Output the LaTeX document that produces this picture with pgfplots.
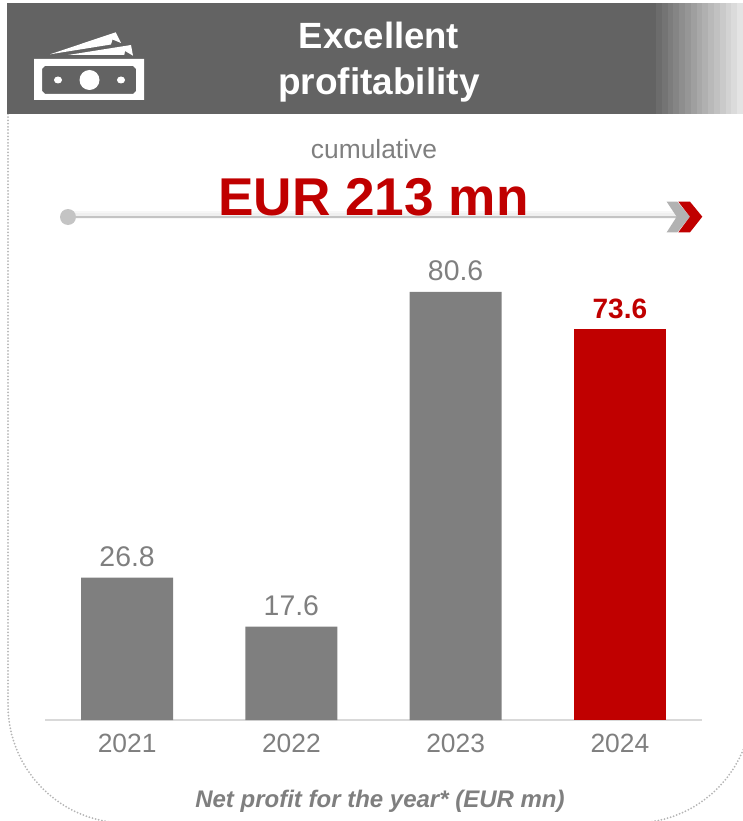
\documentclass[border=0pt]{standalone}
\usepackage{fontspec}
\setmainfont{Liberation Sans}
\usepackage{pgfplots}
\pgfplotsset{compat=1.18}

\definecolor{hdr}{HTML}{636363}
\definecolor{bargray}{HTML}{7F7F7F}
\definecolor{barred}{HTML}{C00000}
\definecolor{framegray}{HTML}{B5B5B5}
\definecolor{axisgray}{HTML}{D9D9D9}
\newcommand{\fs}[1]{\fontsize{#1}{#1}\selectfont}

\begin{document}
\begin{tikzpicture}
\path[use as bounding box] (0,0) rectangle (743pt,-821pt);

% picture units are the reference's pixels, y going down
\begin{scope}[x=1pt,y=-1pt]
% dotted frame, runs off the page on the right and at the bottom
\begin{scope}
\clip (0,0) rectangle (743,821);
\draw[framegray, line width=2pt, line cap=round, dash pattern=on 0pt off 3.2pt]
  (8,114) -- (8,705) arc[start angle=180, end angle=90, x radius=118, y radius=118]
  -- (634,823) arc[start angle=90, end angle=0, x radius=118, y radius=118] -- (752,114);
\end{scope}

% header band
\fill[hdr] (7,3) rectangle (743,114);
\foreach \i in {0,...,14} {
  \pgfmathsetmacro{\p}{5.5*(\i+1)}
  \fill[white!\p!hdr] ({656+5.8*\i},3) rectangle ({656+5.8*(\i+1)},114);
}

% banknote icon
\fill[white, even odd rule] (34,59) rectangle (144,100)
  (45,66) -- (133,66) -- (136,69) -- (136,91) -- (133,94) -- (45,94) -- (42,91) -- (42,69) -- cycle;
\fill[white] (89.5,80) ellipse[x radius=10, y radius=10];
\fill[white] (58,80) ellipse[x radius=4, y radius=3.5];
\fill[white] (121,80) ellipse[x radius=4, y radius=3.5];
\fill[white] (50,54.3) -- (115.7,32.3) -- (121,43) -- (112.5,39.5) -- (111,44.5) -- cycle;
\fill[white] (68,55) -- (131,45) -- (133,55.7) -- (125,51) -- (124.3,55) -- cycle;

\node[white, font=\fs{36.5}\bfseries, anchor=base, inner sep=0] at (379,49) {Excellent};
\node[white, font=\fs{37}\bfseries, anchor=base, inner sep=0] at (379,95) {profitability};

% cumulative arrow
\draw[black!3, line width=8pt] (72,214.5) -- (678,214.5);
\draw[black!6, line width=4pt] (72,215) -- (678,215);
\draw[framegray!80, line width=2pt] (68,216.5) -- (678,216.5);
\fill[framegray!80] (68,217) ellipse[x radius=8, y radius=8];
\fill[black!30] (666.7,201.7) -- (677.3,201.7) -- (690,216.7) -- (677.3,232.3) -- (666.7,232.3) -- (676.7,216.7) -- cycle;
\fill[barred] (678.3,201.7) -- (690,201.7) -- (702.3,216.7) -- (690,232.3) -- (678.3,232.3) -- (690,216.7) -- cycle;

\node[bargray, font=\fs{26.4}, anchor=base, inner sep=0] at (374,159) {cumulative};
\node[barred, font=\fs{53.2}\bfseries, anchor=base, inner sep=0] at (373.5,215) {EUR 213 mn};
\end{scope}

\begin{axis}[
  at={(45pt,-720pt)}, anchor=south west,
  scale only axis,
  width=657pt, height=478pt,
  xmin=-0.5, xmax=3.5,
  ymin=0, ymax=90,
  axis y line=none,
  axis x line=bottom,
  axis line style={axisgray, line width=2pt, -},
  xtick={0,1,2,3},
  xticklabels={2021,2022,2023,2024},
  major tick length=0pt,
  xticklabel style={font=\fs{26.4}, text=bargray, anchor=base, yshift=-32pt},
  ybar,
  bar width=92pt,
  bar shift=0pt,
  clip=false,
  nodes near coords,
  /pgf/number format/assume math mode=true,
  /pgf/number format/fixed,
  /pgf/number format/fixed zerofill,
  /pgf/number format/precision=1,
]
\addplot[fill=bargray, draw=none,
  nodes near coords style={font=\fs{28.4}, text=bargray, anchor=base, yshift=11pt, inner sep=0}]
  coordinates {(0,26.8) (1,17.6) (2,80.6)};
\addplot[fill=barred, draw=none,
  nodes near coords style={font=\fs{28}\bfseries, text=barred, anchor=base, yshift=11pt, inner sep=0}]
  coordinates {(3,73.6)};
\end{axis}

\node[bargray, font=\fs{24}\bfseries\itshape, anchor=base, inner sep=0] at (380pt,-807pt) {Net profit for the year* (EUR mn)};
\end{tikzpicture}
\end{document}
